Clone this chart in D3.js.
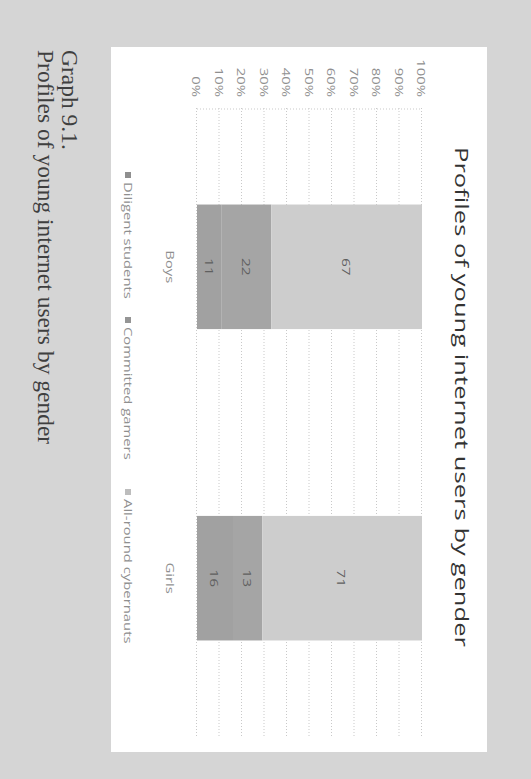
<!DOCTYPE html>
<html><head><meta charset="utf-8">
<script src="https://cdn.jsdelivr.net/npm/d3@7/dist/d3.min.js"></script>
<style>body{margin:0;background:#d5d5d5;} svg{display:block;}</style>
</head><body>
<svg id="c" width="531" height="779"></svg>
<script>
// ---- data ----
const categories = ["Boys", "Girls"];
const seriesNames = ["Diligent students", "Committed gamers", "All-round cybernauts"];
const diligentStudents = [11, 16];
const committedGamers = [22, 13];
const allRoundCybernauts = [67, 71];
const tickValues = [0, 10, 20, 30, 40, 50, 60, 70, 80, 90, 100];
const tickLabels = ["0%", "10%", "20%", "30%", "40%", "50%", "60%", "70%", "80%", "90%", "100%"];
const chartTitle = "Profiles of young internet users by gender";
const captionLines = ["Graph 9.1.", "Profiles of young internet users by gender"];
const seriesColors = ["#a1a1a1", "#a5a5a5", "#cdcdcd"];
const legendMarkerColors = ["#8f8f8f", "#959595", "#bdbdbd"];

const rows = categories.map((c, i) => ({
  cat: c,
  [seriesNames[0]]: diligentStudents[i],
  [seriesNames[1]]: committedGamers[i],
  [seriesNames[2]]: allRoundCybernauts[i]
}));

const svg = d3.select("#c");
svg.append("rect").attr("width", 531).attr("height", 779).attr("fill", "#d5d5d5");

// page is rotated 90deg clockwise: local u -> image y, local v -> image 531 - x
const g = svg.append("g").attr("transform", "translate(531,0) rotate(90)");
const SX = 1.35; // horizontal stretch of chart picture text

// white chart box
g.append("rect").attr("x", 47).attr("y", 44).attr("width", 705).attr("height", 376).attr("fill", "#ffffff");

function stretchedText(sel, u, v, txt, size, fill, anchor) {
  return sel.append("text")
    .attr("transform", `translate(${u},${v}) scale(${SX},1)`)
    .attr("text-anchor", anchor || "middle")
    .attr("font-family", "'Open Sans', 'Noto Sans', sans-serif")
    .attr("font-size", size)
    .attr("fill", fill)
    .text(txt);
}

// title
g.append("text")
  .attr("x", 147).attr("y", 76)
  .attr("textLength", 500).attr("lengthAdjust", "spacingAndGlyphs")
  .attr("font-family", "'Open Sans', 'Noto Sans', sans-serif")
  .attr("font-size", 17.5).attr("fill", "#333333")
  .text(chartTitle);

// scales
const x = d3.scaleBand().domain(categories).range([108, 737]).paddingInner(0.6).paddingOuter(0.31);
const y = d3.scaleLinear().domain([0, 100]).range([334, 109]);

// gridlines
const grid = g.append("g").attr("transform", "translate(108,0)")
  .call(d3.axisLeft(y).tickValues(tickValues).tickSize(-629).tickFormat(""));
grid.select(".domain").remove();
grid.selectAll("line").attr("stroke", "#c9c9c9").attr("stroke-dasharray", "1,2");
// vertical axis dotted line
g.append("line").attr("x1", 109).attr("x2", 109).attr("y1", y(0)).attr("y2", y(100))
  .attr("stroke", "#c9c9c9").attr("stroke-dasharray", "1,2");

// tick labels
const ax = g.append("g").attr("transform", "translate(97,0)")
  .call(d3.axisLeft(y).tickValues(tickValues).tickSize(0).tickFormat((d, i) => tickLabels[i]));
ax.select(".domain").remove();
ax.selectAll("text")
  .attr("x", 0).attr("dy", null)
  .attr("dominant-baseline", "central")
  .attr("transform", `scale(${SX},1)`)
  .attr("text-anchor", "end")
  .attr("font-family", "'Open Sans', 'Noto Sans', sans-serif")
  .attr("font-size", 11).attr("fill", "#8f8f8f");

// stacked bars
const stack = d3.stack().keys(seriesNames)(rows);
const layers = g.append("g").selectAll("g").data(stack).join("g")
  .attr("fill", (d, i) => seriesColors[i]);
layers.selectAll("rect").data(d => d).join("rect")
  .attr("x", d => x(d.data.cat))
  .attr("width", x.bandwidth())
  .attr("y", d => y(d[1]))
  .attr("height", d => y(d[0]) - y(d[1]));

// data labels
stack.forEach(layer => {
  layer.forEach(d => {
    stretchedText(g, x(d.data.cat) + x.bandwidth() / 2, y((d[0] + d[1]) / 2), d[1] - d[0], 11.5, "#5f5f5f")
      .attr("dominant-baseline", "central");
  });
});

// category labels
categories.forEach(c => {
  stretchedText(g, x(c) + x.bandwidth() / 2, 361, c, 11, "#8f8f8f").attr("dominant-baseline", "central");
});

// legend
const legendStarts = [175, 320, 492];
seriesNames.forEach((s, i) => {
  g.append("rect").attr("x", legendStarts[i] - 3).attr("y", 400).attr("width", 6).attr("height", 6)
    .attr("fill", legendMarkerColors[i]);
  stretchedText(g, legendStarts[i] + 7, 403, s, 11, "#8f8f8f", "start").attr("dominant-baseline", "central");
});

// caption (serif)
captionLines.forEach((t, i) => {
  g.append("text").attr("x", 50).attr("y", 469 + i * 24)
    .attr("font-family", "'Liberation Serif', 'Times New Roman', serif")
    .attr("font-size", 23.5).attr("fill", "#3f3f3f")
    .text(t);
});
</script>
</body></html>
